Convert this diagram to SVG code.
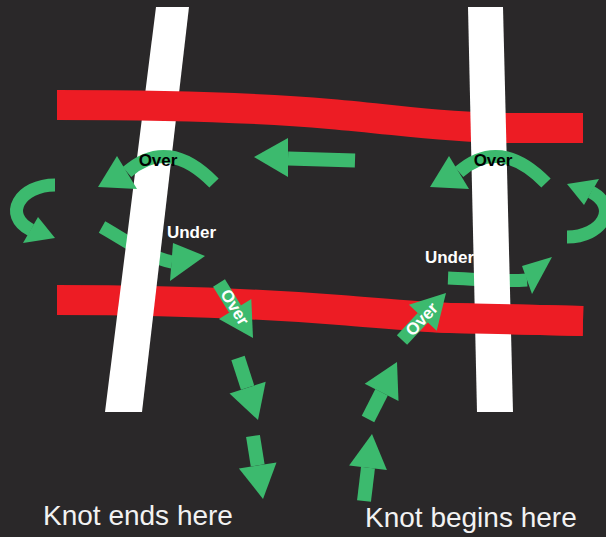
<svg xmlns="http://www.w3.org/2000/svg" width="606" height="537" viewBox="0 0 606 537">
<defs>
<style>
.bg{fill:#2a2829}
.bar{fill:#ffffff}
.band{fill:none;stroke:#ed1c24;stroke-width:30;stroke-linecap:butt}
.shaft{fill:none;stroke:#3cba6e;stroke-width:14;stroke-linecap:butt}
.thin{stroke-width:13}
.head{fill:#3cba6e}
.lbl{font-family:"Liberation Sans",Arial,sans-serif;font-weight:bold;font-size:17px;text-anchor:middle}
.dark{fill:#000000}
.light{fill:#ffffff}
.cap{font-family:"Liberation Sans",Arial,sans-serif;font-size:28px;fill:#f2f2f2}
</style>
<clipPath id="rightClip"><rect x="420" y="0" width="186" height="537"/></clipPath>
</defs>
<rect class="bg" x="0" y="0" width="606" height="537"/>

<g id="connectors">
<g id="under-left">
<path class="shaft thin" d="M102,227 C125,240 150,258 172,262"/>
<polygon class="head" points="173,243 205,256 170,281"/>
</g>
<g id="under-right">
<path class="shaft thin" d="M448,278 C475,279 500,282 527,280"/>
<polygon class="head" points="522,266 552,257 532,294"/>
</g>
</g>

<g id="strand-bottom-red">
<path class="band" d="M57,300 C150,300 250,303 340,310 C390,314 420,317 450,318 L583,321"/>
</g>
<g id="strand-left-white">
<polygon class="bar" points="156,7 189,7 142,412 105,412"/>
</g>
<g id="strand-top-red">
<path class="band" d="M57,105 C150,105 250,107 330,114 C400,120 440,127 500,128 L583,128"/>
</g>
<g id="strand-right-white">
<polygon class="bar" points="468,7 503,7 513,412 477,412"/>
</g>
<g id="strand-bottom-red-over">
<path class="band" clip-path="url(#rightClip)" d="M57,300 C150,300 250,303 340,310 C390,314 420,317 450,318 L583,321"/>
</g>

<g id="under-labels">
<text class="lbl light" x="191.5" y="238">Under</text>
<text class="lbl light" x="449.5" y="263">Under</text>
</g>

<g id="arrows">
<g id="over-arc-left">
<path class="shaft thin" d="M214,183 Q168,136 127,172"/>
<polygon class="head" points="117,156 98,187 137,189"/>
<text class="lbl dark" x="158" y="166">Over</text>
</g>
<g id="over-arc-right">
<path class="shaft thin" d="M546,183 Q500,136 459,172"/>
<polygon class="head" points="449,156 430,187 469,189"/>
<text class="lbl dark" x="493" y="166">Over</text>
</g>
<g id="loop-left">
<path class="shaft thin" d="M55,185 C20,185 2,215 31,230"/>
<polygon class="head" points="23,243 55,238 38,217"/>
</g>
<g id="loop-right" transform="rotate(180 311 211)">
<path class="shaft thin" d="M55,185 C20,185 2,215 31,230"/>
<polygon class="head" points="23,243 55,238 38,217"/>
</g>
<g id="top-left-arrow">
<path class="shaft" d="M355,160.5 L288,158.5"/>
<polygon class="head" points="288,138 254,157 288,177"/>
</g>
<g id="over-bottom-left">
<path class="shaft" d="M219,283 L235.1,309.1"/>
<polygon class="head" points="251.3,299.1 253,338 218.9,319.1"/>
<text class="lbl light" transform="translate(235,307) rotate(58.3)" x="0" y="6">Over</text>
</g>
<g id="over-bottom-right">
<path class="shaft" d="M402,340 L422.8,317.8"/>
<polygon class="head" points="436.7,330.8 446,293 408.9,304.8"/>
<text class="lbl light" transform="translate(421.5,319) rotate(-46.9)" x="0" y="6">Over</text>
</g>
<g id="down-arrow-1">
<path class="shaft" d="M238,358 L247.6,387.6"/>
<polygon class="head" points="265.7,381.8 258,420 229.5,393.4"/>
</g>
<g id="down-arrow-2">
<path class="shaft" d="M253,436 L257.7,465.4"/>
<polygon class="head" points="276.5,462.4 263,499 238.9,468.4"/>
</g>
<g id="up-arrow-1">
<path class="shaft" d="M368,419 L381.6,392.3"/>
<polygon class="head" points="398.5,400.9 397,362 364.7,383.7"/>
</g>
<g id="up-arrow-2">
<path class="shaft" d="M364,501 L368,467.7"/>
<polygon class="head" points="386.9,470 372,434 349.1,465.4"/>
</g>
</g>

<g id="captions">
<text class="cap" x="43" y="525">Knot ends here</text>
<text class="cap" x="365" y="527">Knot begins here</text>
</g>
</svg>
